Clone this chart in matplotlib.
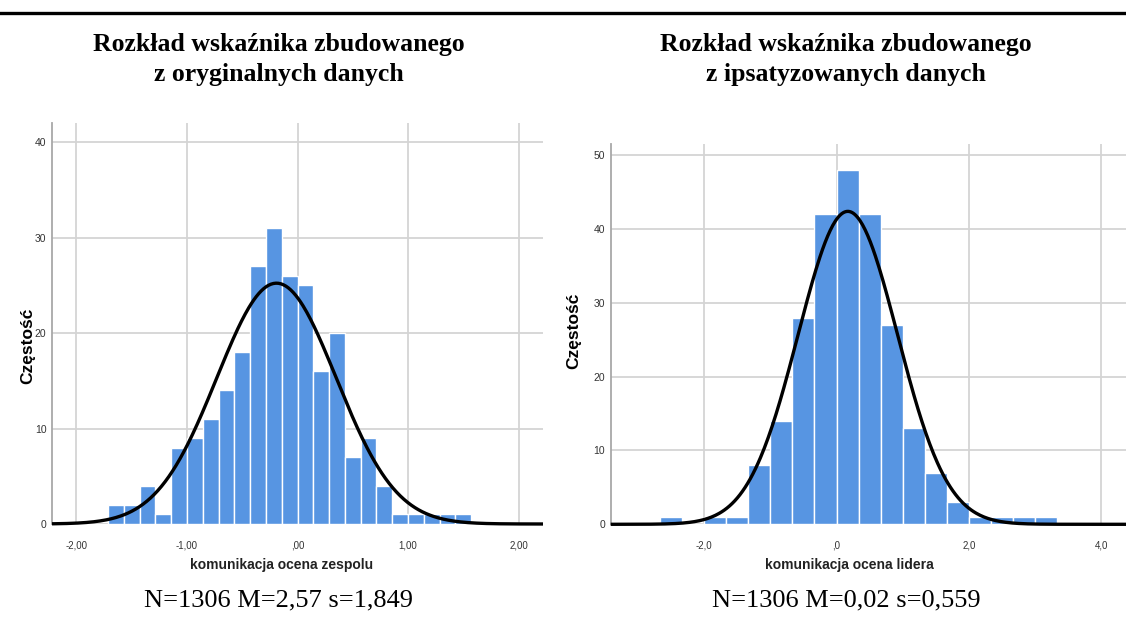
import matplotlib
matplotlib.use("Agg")
import matplotlib.pyplot as plt
from matplotlib.lines import Line2D
import numpy as np

# dane (liczebności w przedziałach)
left_start = -12 / 7
left_width = 1 / 7
left_counts = [2, 2, 4, 1, 8, 9, 11, 14, 18, 27, 31, 26, 25, 16, 20, 7, 9, 4, 1, 1, 1, 1, 1]
left_mean, left_sd = -0.19, 0.54
left_xticks = [-2, -1, 0, 1, 2]
left_xticklabels = ["-2,00", "-1,00", ",00", "1,00", "2,00"]
left_yticks = [0, 10, 20, 30, 40]

right_start = -8 / 3
right_width = 1 / 3
right_counts = [1, 0, 1, 1, 8, 14, 28, 42, 48, 42, 27, 13, 7, 3, 1, 1, 1, 1]
right_mean, right_sd = 0.17, 0.75
right_xticks = [-2, 0, 2, 4]
right_xticklabels = ["-2,0", ",0", "2,0", "4,0"]
right_yticks = [0, 10, 20, 30, 40, 50]

titles = [["Rozkład wskaźnika zbudowanego", "z oryginalnych danych"],
          ["Rozkład wskaźnika zbudowanego", "z ipsatyzowanych danych"]]
xlabels = ["komunikacja ocena zespolu", "komunikacja ocena lidera"]
captions = ["N=1306 M=2,57 s=1,849", "N=1306 M=0,02 s=0,559"]

BAR = "#5795e2"
GRID = "#d4d4d4"

W, H = 1126, 628
fig = plt.figure(figsize=(W / 100, H / 100), dpi=100)

sans = ["Liberation Sans", "DejaVu Sans"]
serif = ["Liberation Serif", "DejaVu Serif"]


def draw_hist(ax, start, width, counts, mean, sd, xlim, ylim, xticks, xticklabels, yticks):
    counts = np.array(counts)
    edges = start + width * np.arange(len(counts))
    ax.bar(edges, counts, width=width, align="edge", color=BAR,
           edgecolor="white", linewidth=1.0, zorder=2)
    n = counts.sum()
    xs = np.linspace(xlim[0], xlim[1], 400)
    ys = n * width / (sd * np.sqrt(2 * np.pi)) * np.exp(-0.5 * ((xs - mean) / sd) ** 2)
    ax.plot(xs, ys, color="black", linewidth=2.4, zorder=4, clip_on=False,
            solid_capstyle="butt")
    ax.set_xlim(xlim)
    ax.set_ylim(ylim)
    ax.set_xticks(xticks)
    ax.set_xticklabels(xticklabels)
    ax.set_yticks(yticks)
    ax.grid(True, color=GRID, linewidth=1.3, zorder=0)
    ax.set_axisbelow(True)
    for s in ["top", "right", "bottom"]:
        ax.spines[s].set_visible(False)
    ax.spines["left"].set_color("#a8a8a8")
    ax.spines["left"].set_linewidth(1.3)
    ax.tick_params(axis="x", length=0, pad=12, labelsize=7, labelcolor="#333333")
    ax.tick_params(axis="y", length=0, pad=4, labelsize=7.5, labelcolor="#333333")
    for lab in ax.get_xticklabels() + ax.get_yticklabels():
        lab.set_family(sans)
    ax.set_ylabel("Częstość", family=sans, fontsize=12.5, fontweight="bold")


# lewy panel
ax1 = fig.add_axes([52 / W, 1 - 524 / H, 491 / W, 401 / H])
draw_hist(ax1, left_start, left_width, left_counts, left_mean, left_sd,
          (-2.22, 2.22), (0, 42.0), left_xticks, left_xticklabels, left_yticks)

# prawy panel
ax2 = fig.add_axes([610.7 / W, 1 - 524.3 / H, (W - 610.7) / W, 380.3 / H])
draw_hist(ax2, right_start, right_width, right_counts, right_mean, right_sd,
          (-3.41, 4.37), (0, 51.5), right_xticks, right_xticklabels, right_yticks)

ax1.yaxis.set_label_coords(-0.035, 0.445)
ax2.yaxis.set_label_coords(-0.057, 0.51)

# linia na górze
fig.add_artist(Line2D([0, 1], [1 - 13 / H, 1 - 13 / H], color="black", linewidth=2.4,
                      transform=fig.transFigure))

centers = [279, 846]
for cx, t, xl, cap in zip(centers, titles, xlabels, captions):
    fig.text(cx / W, 1 - 44 / H, t[0], ha="center", va="center", family=serif,
             fontsize=18.5, fontweight="bold")
    fig.text(cx / W, 1 - 74 / H, t[1], ha="center", va="center", family=serif,
             fontsize=18.5, fontweight="bold")
    fig.text((cx + 3) / W, 1 - 565 / H, xl, ha="center", va="center", family=sans,
             fontsize=10, fontweight="bold", color="#222222")
    fig.text(cx / W, 1 - 600 / H, cap, ha="center", va="center", family=serif,
             fontsize=19)

fig.savefig("out.png", dpi=100)
